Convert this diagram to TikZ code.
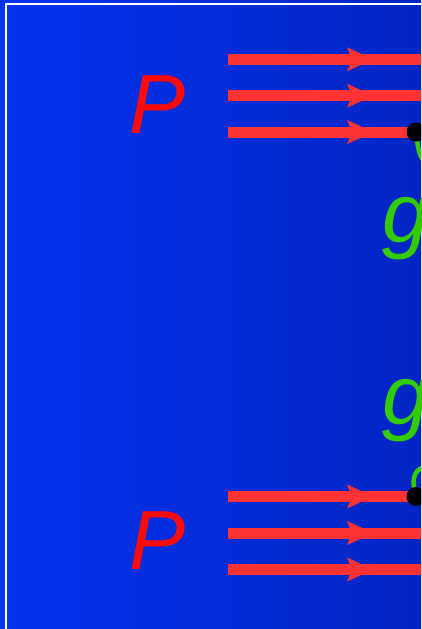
\documentclass[tikz,border=0pt]{standalone}
\usepackage{fontspec}
\setmainfont{Liberation Sans}
\definecolor{bgl}{RGB}{3,51,238}
\definecolor{bgr}{RGB}{4,37,196}
\definecolor{pred}{RGB}{255,10,10}
\definecolor{lred}{RGB}{255,51,51}
\definecolor{gg}{RGB}{51,204,0}
\begin{document}
\begin{tikzpicture}[x=1pt,y=-1pt,
  lbl/.style={inner sep=0pt, anchor=base west, font=\fontsize{84}{90}\selectfont\itshape},
  plab/.style={lbl, text=pred},
  glab/.style={lbl, text=gg},
  fline/.style={draw=lred, line width=11pt},
  gline/.style={draw=gg, line width=4.5pt},
  vtx/.style={circle, fill=black, inner sep=0pt, minimum size=19pt},
  ahead/.pic={\fill[lred] (-26,-12) -- (0,0) -- (-26,12) -- (-21,0) -- cycle;}]
\useasboundingbox (0,0) rectangle (421,629);
\clip (0,0) rectangle (421,629);
\shade[left color=bgl, right color=bgr] (0,0) rectangle (421,629);
\draw[white, line width=2pt] (5.5,3.5) rectangle (600,800);
% labels
\node[plab] (p1) at (129,133) {P};
\node[plab] (p2) at (129,569) {P};
\node[glab] (g1) at (382,242) {g};
\node[glab] (g2) at (382,424) {g};
% vertices
\coordinate (v1) at (416,132);
\coordinate (v2) at (416,496.5);
% upper fermion lines
\coordinate (a1) at (228,59.3);  \coordinate (e1) at (440,59.3);  \coordinate (h1) at (373,59.3);
\coordinate (a2) at (228,95.7);  \coordinate (e2) at (440,95.7);  \coordinate (h2) at (373,95.7);
\coordinate (a3) at (228,132);   \coordinate (h3) at (373,132);
\draw[fline] (a1) -- (e1);
\draw[fline] (a2) -- (e2);
\draw[fline] (a3) -- (v1);
\pic at (h1) {ahead};
\pic at (h2) {ahead};
\pic at (h3) {ahead};
% lower fermion lines
\coordinate (b1) at (228,496.5); \coordinate (k1) at (373,496.5);
\coordinate (b2) at (228,533);   \coordinate (f2) at (440,533);   \coordinate (k2) at (373,533);
\coordinate (b3) at (228,569.5); \coordinate (f3) at (440,569.5); \coordinate (k3) at (373,569.5);
\draw[fline] (b1) -- (v2);
\draw[fline] (b2) -- (f2);
\draw[fline] (b3) -- (f3);
\pic at (k1) {ahead};
\pic at (k2) {ahead};
\pic at (k3) {ahead};
% gluon stubs
\coordinate (gt) at (426,163);
\coordinate (gb) at (428,467);
\draw[gline] (v1) .. controls (418,146) and (418,156) .. (gt);
\draw[gline] (v2) .. controls (410,476) and (416,467) .. (gb);
% dots
\node[vtx] (d1) at (v1) {};
\node[vtx] (d2) at (v2) {};
\end{tikzpicture}
\end{document}
